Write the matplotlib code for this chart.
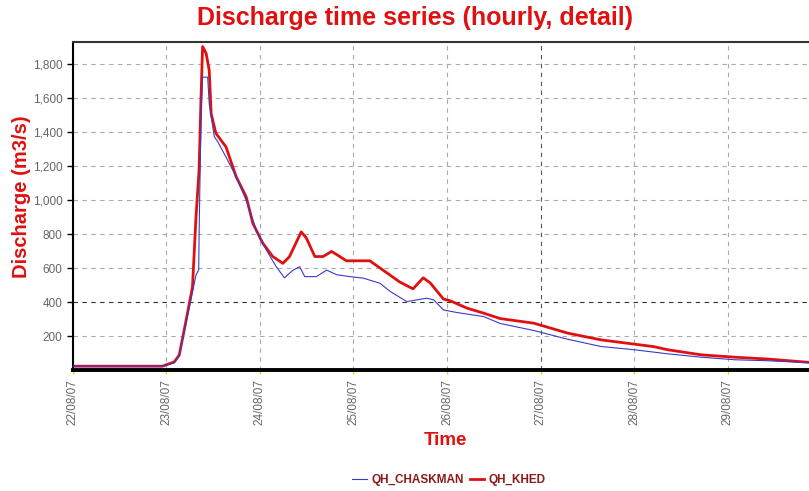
import matplotlib
matplotlib.use("Agg")
import matplotlib.pyplot as plt
import matplotlib.dates as mdates
import matplotlib.ticker as mticker
import pandas as pd

plt.rcParams['font.family'] = ['Liberation Sans', 'DejaVu Sans']

# start of the series, hours below are counted from here
start = pd.Timestamp("2007-08-22 00:00")

# QH_KHED (red, thick)
khed_hours = [0, 23, 26, 27.3, 28.6, 30.7, 31.6, 32.4, 32.9, 33.3, 34.2, 35.0, 35.5,
              36.7, 39.3, 41.9, 44.5, 46.2, 48.7, 51.3, 53.9, 55.6, 58.6, 59.9, 62.1,
              64.2, 66.4, 68.5, 70.2, 76.2, 79.6, 83.9, 87.3, 89.9, 91.7, 95.1, 96.8,
              101.1, 105.4, 109.7, 118.3, 126.9, 135.5, 144.0, 149.1, 152.6, 161.2,
              169.8, 178.4, 189.3]
khed_q = [25, 25, 50, 90, 240, 490, 900, 1180, 1610, 1905, 1865, 1765, 1510,
          1395, 1315, 1140, 1020, 865, 750, 670, 630, 670, 815, 780, 670,
          670, 700, 670, 645, 645, 590, 520, 480, 545, 515, 420, 410,
          367, 337, 305, 278, 220, 180, 155, 140, 122, 92,
          78, 67, 47]

# QH_CHASKMAN (blue, thin)
chaskman_hours = [0, 23, 26, 27.3, 28.6, 30.7, 31.6, 32.3, 32.4, 32.9, 33.3, 34.6, 35.0,
                  36.3, 37.2, 39.3, 41.9, 44.5, 47.1, 49.6, 52.2, 54.3, 56.5, 58.2, 59.5,
                  62.5, 65.1, 67.7, 71.1, 74.5, 78.8, 81.4, 85.7, 90.8, 92.6, 95.1, 98.5,
                  105.4, 109.7, 118.3, 126.9, 135.5, 144.0, 152.6, 161.2, 169.8, 178.4, 189.3]
chaskman_q = [25, 25, 45, 85, 230, 460, 560, 592, 800, 1510, 1725, 1725, 1570,
              1375, 1345, 1255, 1140, 1000, 825, 710, 610, 545, 590, 610, 552,
              552, 590, 563, 552, 543, 513, 465, 405, 425, 415, 356, 341,
              317, 276, 235, 184, 141, 122, 98, 78, 63, 57, 45]

khed_t = start + pd.to_timedelta(khed_hours, unit="h")
chaskman_t = start + pd.to_timedelta(chaskman_hours, unit="h")

fig = plt.figure(figsize=(8.09, 4.91), dpi=100)
ax = fig.add_axes([0.090, 0.2455, 0.912, 0.669])

ax.plot(chaskman_t, chaskman_q, color="#3a3acc", lw=0.8, label="QH_CHASKMAN", zorder=3)
ax.plot(khed_t, khed_q, color="#e01010", lw=2.0, label="QH_KHED", zorder=2)

ax.set_ylim(0, 1932)
ax.set_xlim(start, start + pd.Timedelta(hours=189.3))
ax.yaxis.set_major_locator(mticker.FixedLocator(range(200, 1801, 200)))
ax.yaxis.set_major_formatter(mticker.FuncFormatter(lambda v, p: f"{int(v):,}"))
ax.xaxis.set_major_locator(mdates.DayLocator())
ax.xaxis.set_major_formatter(mdates.DateFormatter("%d/%m/%y"))

ax.grid(True, ls=(0, (4, 4)), color="#aaaaaa", lw=0.8)
# a couple of grid lines are drawn darker in the original
ax.get_ygridlines()[1].set_color("#333333")
for tick_line, lab in zip(ax.get_xgridlines(), ax.get_xticks()):
    if mdates.num2date(lab).day == 27:
        tick_line.set_color("#555555")

ax.tick_params(axis="y", labelsize=8.5, labelcolor="#666666", length=4, width=1, color="black")
ax.tick_params(axis="x", labelsize=8.5, labelcolor="#666666", length=3, width=1,
               color="#e8d000", rotation=90)

for side in ["left", "top"]:
    ax.spines[side].set_linewidth(1.5)
ax.spines["top"].set_color("#333333")
ax.spines["bottom"].set_linewidth(2.8)
ax.spines["right"].set_visible(False)

fig.text(0.513, 0.963, "Discharge time series (hourly, detail)", color="#e01010",
         fontsize=18, fontweight="bold", ha="center", va="center")
fig.text(0.027, 0.60, "Discharge (m3/s)", color="#e01010", fontsize=14.5, fontweight="bold",
         ha="center", va="center", rotation=90)
fig.text(0.551, 0.103, "Time", color="#e01010", fontsize=13.5, fontweight="bold",
         ha="center", va="center")

leg = fig.legend(loc="center", bbox_to_anchor=(0.555, 0.022), ncol=2, frameon=False,
                 fontsize=8.5, handlelength=1.2, handletextpad=0.4, columnspacing=0.5)
for txt in leg.get_texts():
    txt.set_color("#8b1a1a")
    txt.set_fontweight("bold")

fig.savefig("out.png", dpi=100)
